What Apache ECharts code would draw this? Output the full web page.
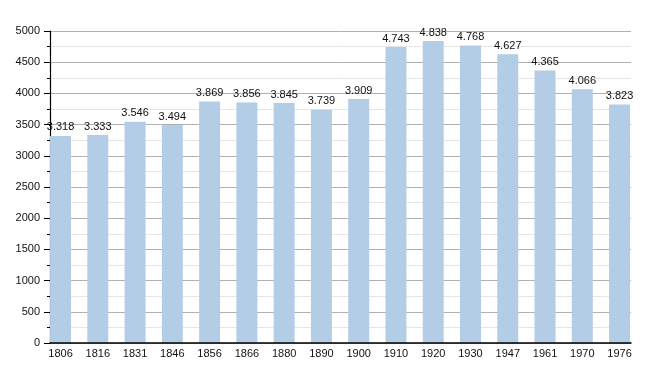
<!DOCTYPE html>
<html><head><meta charset="utf-8">
<script src="https://cdn.jsdelivr.net/npm/echarts@6/dist/echarts.min.js"></script>
<style>html,body{margin:0;padding:0;background:#fff}#c{width:660px;height:373px}</style>
</head><body><div id="c"></div>
<script>
const years = ['1806','1816','1831','1846','1856','1866','1880','1890','1900','1910','1920','1930','1947','1961','1970','1976'];
const population = [3318,3333,3546,3494,3869,3856,3845,3739,3909,4743,4838,4768,4627,4365,4066,3823];
const yMin = 0, yMax = 5000, yStep = 500;

const fmt = v => { const s = String(v); return s.length > 3 ? s.slice(0, s.length-3) + '.' + s.slice(-3) : s; };
const font = 'Liberation Sans, Arial, sans-serif';

const chart = echarts.init(document.getElementById('c'), null, {renderer:'canvas'});
chart.setOption({
  animation:false,
  grid:[
    {left:41.9, width:596.3, top:31, height:312},
    {left:50, width:581, top:31, height:312}
  ],
  xAxis:[
    {type:'category', gridIndex:0, data:years, boundaryGap:true,
     axisLine:{show:false}, axisTick:{show:false}, splitLine:{show:false},
     axisLabel:{color:'#111', fontSize:11, fontFamily:font, margin:5, interval:0}},
    {type:'value', gridIndex:1, min:0, max:1, z:5, axisLine:{show:true, onZero:false, lineStyle:{color:'#000', width:1.5}},
     axisTick:{show:false}, axisLabel:{show:false}, splitLine:{show:false}}
  ],
  yAxis:[
    {type:'value', gridIndex:0, min:yMin, max:yMax, interval:yStep, show:false, splitLine:{show:false}},
    {type:'value', gridIndex:1, min:yMin, max:yMax, interval:yStep,
     axisLine:{show:true, lineStyle:{color:'#000', width:1.2}},
     axisTick:{show:true, length:6, lineStyle:{color:'#000'}},
     minorTick:{show:true, splitNumber:2, length:3, lineStyle:{color:'#000'}},
     axisLabel:{color:'#111', fontSize:11, fontFamily:font, margin:10, formatter:v => String(v)},
     splitLine:{show:true, lineStyle:{color:'#b0b0b0', width:1}},
     minorSplitLine:{show:true, lineStyle:{color:'#e6e6e6', width:1}}}
  ],
  series:[{
    type:'bar', xAxisIndex:0, yAxisIndex:0, data:population, barWidth:21,
    itemStyle:{color:'#b3cde6'},
    label:{show:true, position:'top', distance:3, color:'#111', fontSize:11, fontFamily:font,
      formatter:p => fmt(p.value)}
  }]
});
</script></body></html>
